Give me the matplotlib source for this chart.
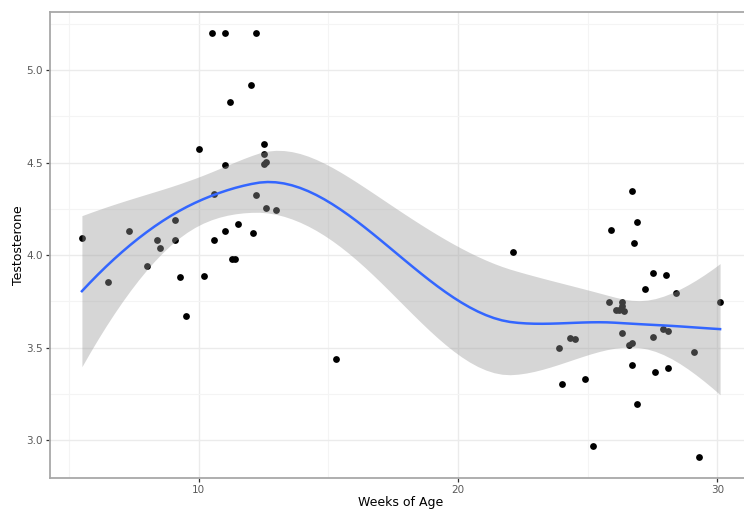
#!/usr/bin/env python3
"""
Testosterone against weeks of age, with a loess smooth and its 95% band
(the look of ggplot2 theme_bw + geom_smooth).
"""

import numpy as np
import matplotlib
matplotlib.use("Agg")
import matplotlib.pyplot as plt
from matplotlib.ticker import MultipleLocator

# values
weeks = [5.5, 6.5, 7.3, 8.0, 8.4, 8.5, 9.1, 9.1, 9.3, 9.5,
         10.0, 10.2, 10.5, 10.6, 10.6, 11.0, 11.0, 11.0, 11.2, 11.3,
         11.4, 11.5, 12.0, 12.1, 12.2, 12.2, 12.5, 12.5, 12.5, 12.6,
         12.6, 13.0, 15.3, 22.1, 23.9, 24.0, 24.3, 24.5, 24.9, 25.2,
         25.8, 25.9, 26.1, 26.2, 26.3, 26.3, 26.4, 26.3, 26.6, 26.7,
         26.7, 26.7, 26.8, 26.9, 26.9, 27.2, 27.5, 27.5, 27.6, 27.9,
         28.0, 28.1, 28.1, 28.4, 29.1, 29.3, 30.1]
testosterone = [4.095, 3.853, 4.13, 3.94, 4.08, 4.04, 4.19, 4.08, 3.88, 3.67,
                4.575, 3.885, 5.2, 4.33, 4.08, 5.2, 4.49, 4.13, 4.83, 3.98,
                3.98, 4.17, 4.92, 4.12, 5.2, 4.325, 4.60, 4.545, 4.495, 4.505,
                4.253, 4.246, 3.44, 4.017, 3.50, 3.306, 3.551, 3.548, 3.328, 2.97,
                3.745, 4.138, 3.705, 3.705, 3.748, 3.725, 3.696, 3.58, 3.517, 3.526,
                4.349, 3.404, 4.068, 4.177, 3.198, 3.815, 3.905, 3.557, 3.371, 3.60,
                3.894, 3.588, 3.389, 3.795, 3.474, 2.91, 3.745]

x_ticks = [10, 20, 30]
y_ticks = [3.0, 3.5, 4.0, 4.5, 5.0]

SPAN = 0.75
CELL = 0.2

################################################################################
#              LOESS (local quadratic, kd-tree + cubic interpolation)          #
################################################################################


def local_rows(x, x0, q):
    """Operator rows giving value and slope of the local fit at x0."""
    d = np.abs(x - x0)
    h = np.sort(d)[q - 1]
    w = np.clip(1 - (d / h) ** 3, 0, None) ** 3
    dx = x - x0
    X = np.column_stack([np.ones(len(x)), dx, dx ** 2])
    XtW = X.T * w
    B = np.linalg.solve(XtW @ X, XtW)
    return B[0], B[1]


def kd_vertices(xs, fc):
    """Cell boundaries of the 1-d kd tree used by R's loess."""
    n = len(xs)
    mu = 0.005 * (xs[-1] - xs[0])
    verts = {xs[0] - mu, xs[-1] + mu}
    stack = [(1, n)]          # 1-based point ranges, like the fortran
    while stack:
        l, u = stack.pop()
        if u - l + 1 <= fc:
            continue
        m = (l + u) // 2
        offset = 0
        while l <= m + offset < u:
            if xs[m + offset - 1] == xs[m + offset]:
                offset = -offset
                if offset >= 0:
                    offset += 1
            else:
                m = m + offset
                break
        verts.add(xs[m - 1])
        stack.append((l, m))
        stack.append((m + 1, u))
    return np.array(sorted(verts))


def loess_operator(x, x_eval, span=SPAN, cell=SPAN * CELL):
    n = len(x)
    q = int(np.floor(n * span))
    fc = int(np.floor(n * cell))
    verts = kd_vertices(np.sort(x), fc)
    val_rows, slope_rows = zip(*[local_rows(x, v, q) for v in verts])
    val_rows = np.array(val_rows)
    slope_rows = np.array(slope_rows)

    rows = []
    for xe in x_eval:
        i = np.clip(np.searchsorted(verts, xe) - 1, 0, len(verts) - 2)
        a, b = verts[i], verts[i + 1]
        h = b - a
        t = (xe - a) / h
        h00 = 2 * t ** 3 - 3 * t ** 2 + 1
        h10 = t ** 3 - 2 * t ** 2 + t
        h01 = -2 * t ** 3 + 3 * t ** 2
        h11 = t ** 3 - t ** 2
        rows.append(h00 * val_rows[i] + h10 * h * slope_rows[i]
                    + h01 * val_rows[i + 1] + h11 * h * slope_rows[i + 1])
    return np.array(rows)


def t_quantile(df, z=1.959964):
    # Cornish-Fisher style expansion, good enough for df ~ 60
    return (z + (z ** 3 + z) / (4 * df)
            + (5 * z ** 5 + 16 * z ** 3 + 3 * z) / (96 * df ** 2))


x = np.array(weeks)
y = np.array(testosterone)

L = loess_operator(x, x)
R = np.eye(len(x)) - L
RtR = R.T @ R
delta1 = np.trace(RtR)
delta2 = np.trace(RtR @ RtR)
sigma = np.sqrt(np.sum((R @ y) ** 2) / delta1)
tq = t_quantile(delta1 ** 2 / delta2)

# 80 evaluation points like geom_smooth
grid = np.linspace(x.min(), x.max(), 80)
Lg = loess_operator(x, grid)
fit = Lg @ y
se = sigma * np.sqrt(np.sum(Lg ** 2, axis=1))

################################################################################
#                                    FIGURE                                    #
################################################################################

fig = plt.figure(figsize=(7.44, 5.09), dpi=100)
W, H = 744, 509
ax = fig.add_axes([50 / W, (H - 478) / H, 702 / W, 466 / H])

ax.scatter(x, y, s=24, color="black", linewidths=0, zorder=3)
ax.fill_between(grid, fit - tq * se, fit + tq * se, color="#999999",
                alpha=0.4, linewidth=0, zorder=4)
ax.plot(grid, fit, color="#3366FF", linewidth=1.8, zorder=5)

xr = x.max() - x.min()
yr = y.max() - y.min()
ax.set_xlim(x.min() - 0.05 * xr, x.max() + 0.05 * xr)
ax.set_ylim(y.min() - 0.05 * yr, y.max() + 0.05 * yr)

ax.set_xticks(x_ticks)
ax.set_yticks(y_ticks)
ax.set_yticklabels([f"{v:.1f}" for v in y_ticks])
ax.xaxis.set_minor_locator(MultipleLocator(5))
ax.yaxis.set_minor_locator(MultipleLocator(0.25))

ax.grid(which="major", color="#EBEBEB", linewidth=1.0, zorder=0)
ax.grid(which="minor", color="#F4F4F4", linewidth=0.8, zorder=0)
ax.set_axisbelow(True)

for side in ["left", "bottom", "top", "right"]:
    ax.spines[side].set_color("#A8A8A8")
    ax.spines[side].set_linewidth(1.3)

ax.tick_params(which="major", length=3, width=0.9, color="#333333",
               labelsize=7.5, labelcolor="#5A5A5A", pad=2)
ax.tick_params(which="minor", length=0)

ax.set_xlabel("Weeks of Age", fontsize=9, color="black", labelpad=1)
ax.set_ylabel("Testosterone", fontsize=9, color="black", labelpad=1)

fig.savefig("out.png", dpi=100)
